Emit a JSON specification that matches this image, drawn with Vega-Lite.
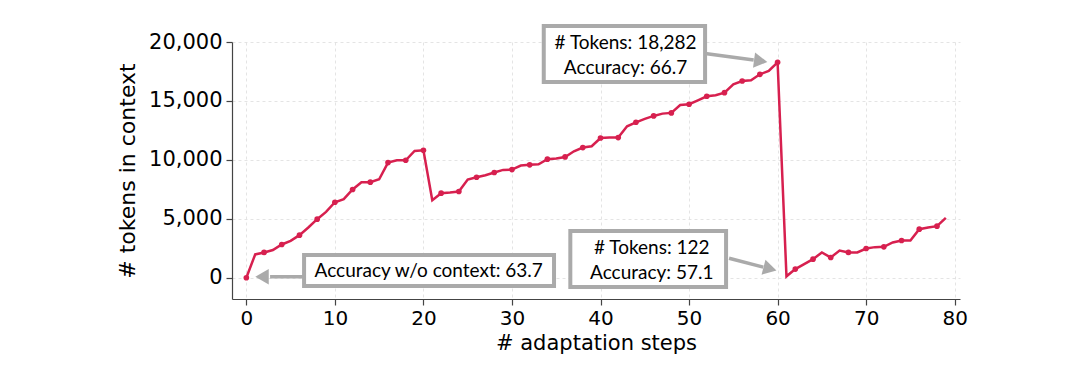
{
  "$schema": "https://vega.github.io/schema/vega-lite/v6.json",
  "width": 728,
  "height": 257,
  "autosize": "none",
  "padding": {"left": 232, "top": 42, "right": 120, "bottom": 76},
  "background": "white",
  "config": {
    "view": {"stroke": null},
    "axis": {
      "labelFont": "DejaVu Sans",
      "titleFont": "DejaVu Sans",
      "labelFontSize": 20,
      "titleFontSize": 21,
      "titleFontWeight": "normal",
      "labelColor": "#000000",
      "titleColor": "#000000",
      "domainColor": "#444444",
      "domainWidth": 1.2,
      "tickColor": "#444444",
      "tickWidth": 1.2,
      "tickSize": 6,
      "gridColor": "#dddddd",
      "gridDash": [3, 3],
      "gridWidth": 0.8
    }
  },
  "datasets": {
    "series": [
      {"step": 0, "tokens": 0}, {"step": 1, "tokens": 1980}, {"step": 2, "tokens": 2150}, {"step": 3, "tokens": 2350},
      {"step": 4, "tokens": 2825}, {"step": 5, "tokens": 3135}, {"step": 6, "tokens": 3615}, {"step": 7, "tokens": 4265},
      {"step": 8, "tokens": 4970}, {"step": 9, "tokens": 5590}, {"step": 10, "tokens": 6410}, {"step": 11, "tokens": 6670},
      {"step": 12, "tokens": 7490}, {"step": 13, "tokens": 8110}, {"step": 14, "tokens": 8110}, {"step": 15, "tokens": 8360},
      {"step": 16, "tokens": 9770}, {"step": 17, "tokens": 9970}, {"step": 18, "tokens": 9970}, {"step": 19, "tokens": 10760},
      {"step": 20, "tokens": 10820}, {"step": 21, "tokens": 6580}, {"step": 22, "tokens": 7175}, {"step": 23, "tokens": 7230},
      {"step": 24, "tokens": 7315}, {"step": 25, "tokens": 8330}, {"step": 26, "tokens": 8530}, {"step": 27, "tokens": 8700},
      {"step": 28, "tokens": 8930}, {"step": 29, "tokens": 9150}, {"step": 30, "tokens": 9180}, {"step": 31, "tokens": 9520},
      {"step": 32, "tokens": 9580}, {"step": 33, "tokens": 9630}, {"step": 34, "tokens": 10060}, {"step": 35, "tokens": 10110},
      {"step": 36, "tokens": 10250}, {"step": 37, "tokens": 10730}, {"step": 38, "tokens": 11045}, {"step": 39, "tokens": 11160},
      {"step": 40, "tokens": 11860}, {"step": 41, "tokens": 11890}, {"step": 42, "tokens": 11890}, {"step": 43, "tokens": 12850},
      {"step": 44, "tokens": 13190}, {"step": 45, "tokens": 13475}, {"step": 46, "tokens": 13730}, {"step": 47, "tokens": 13925},
      {"step": 48, "tokens": 13985}, {"step": 49, "tokens": 14660}, {"step": 50, "tokens": 14720}, {"step": 51, "tokens": 15055},
      {"step": 52, "tokens": 15395}, {"step": 53, "tokens": 15480}, {"step": 54, "tokens": 15705}, {"step": 55, "tokens": 16410},
      {"step": 56, "tokens": 16695}, {"step": 57, "tokens": 16750}, {"step": 58, "tokens": 17260}, {"step": 59, "tokens": 17540},
      {"step": 60, "tokens": 18282}, {"step": 61, "tokens": 122}, {"step": 62, "tokens": 735}, {"step": 63, "tokens": 1160},
      {"step": 64, "tokens": 1580}, {"step": 65, "tokens": 2150}, {"step": 66, "tokens": 1720}, {"step": 67, "tokens": 2315},
      {"step": 68, "tokens": 2150}, {"step": 69, "tokens": 2150}, {"step": 70, "tokens": 2485}, {"step": 71, "tokens": 2600},
      {"step": 72, "tokens": 2625}, {"step": 73, "tokens": 2995}, {"step": 74, "tokens": 3165}, {"step": 75, "tokens": 3165},
      {"step": 76, "tokens": 4125}, {"step": 77, "tokens": 4265}, {"step": 78, "tokens": 4380}, {"step": 79, "tokens": 5085}
    ],
    "boxes": [
      {"box": "b1", "x1": 6.52, "x2": 34.75, "y1": 1934, "y2": -696},
      {"box": "b2", "x1": 33.59, "x2": 51.81, "y1": 21358, "y2": 16608},
      {"box": "b3", "x1": 36.59, "x2": 54.18, "y1": 3970, "y2": -780}
    ],
    "labels": [
      {"x": 20.6, "y": 577, "label": "Accuracy w/o context: 63.7"},
      {"x": 42.83, "y": 19891, "label": "# Tokens: 18,282"},
      {"x": 42.83, "y": 17770, "label": "Accuracy: 66.7"},
      {"x": 45.79, "y": 2502, "label": "# Tokens: 122"},
      {"x": 45.79, "y": 382, "label": "Accuracy: 57.1"}
    ],
    "shafts": [
      {"arrow": "a1", "x1": 6.52, "y1": 93, "x2": 2.68, "y2": 93},
      {"arrow": "a2", "x1": 51.81, "y1": 19026, "x2": 57.3, "y2": 18466},
      {"arrow": "a3", "x1": 54.52, "y1": 1654, "x2": 58.38, "y2": 908}
    ],
    "heads": [
      {"arrow": "a1", "x": 1.77, "y": 93},
      {"arrow": "a2", "x": 58.09, "y": 18381},
      {"arrow": "a3", "x": 59.14, "y": 755}
    ]
  },
  "layer": [
    {
      "data": {"name": "series"},
      "mark": {"type": "line", "color": "#d7204f", "strokeWidth": 2.5, "clip": false},
      "encoding": {
        "x": {"field": "step", "type": "quantitative", "title": "# adaptation steps",
              "scale": {"domain": [-1.62, 80.6], "nice": false, "zero": false},
              "axis": {"values": [0, 10, 20, 30, 40, 50, 60, 70, 80], "format": "d", "labelPadding": 3, "titlePadding": 4, "grid": true}},
        "y": {"field": "tokens", "type": "quantitative", "title": "# tokens in context",
              "scale": {"domain": [-1800, 20000], "nice": false, "zero": false},
              "axis": {"values": [0, 5000, 10000, 15000, 20000], "format": ",d", "labelPadding": 4, "titlePadding": 9, "titleFontSize": 22, "labelFontSize": 21, "grid": true}}
      }
    },
    {
      "data": {"name": "series"},
      "transform": [{"filter": "datum.step % 2 == 0"}],
      "mark": {"type": "point", "filled": true, "color": "#d7204f", "size": 32, "opacity": 1},
      "encoding": {
        "x": {"field": "step", "type": "quantitative", "title": "# adaptation steps"},
        "y": {"field": "tokens", "type": "quantitative", "title": "# tokens in context"}
      }
    },
    {
      "data": {"name": "boxes"},
      "mark": {"type": "rect", "fill": "white", "stroke": "#aaaaaa", "strokeWidth": 4},
      "encoding": {
        "x": {"field": "x1", "type": "quantitative", "title": "# adaptation steps"},
        "x2": {"field": "x2"},
        "y": {"field": "y1", "type": "quantitative", "title": "# tokens in context"},
        "y2": {"field": "y2"}
      }
    },
    {
      "data": {"name": "labels"},
      "mark": {"type": "text", "font": "Lato", "fontSize": 19, "color": "#000000", "align": "center", "baseline": "middle"},
      "encoding": {
        "x": {"field": "x", "type": "quantitative", "title": "# adaptation steps"},
        "y": {"field": "y", "type": "quantitative", "title": "# tokens in context"},
        "text": {"field": "label"}
      }
    },
    {
      "data": {"name": "shafts"},
      "mark": {"type": "rule", "color": "#aaaaaa", "strokeWidth": 3.5},
      "encoding": {
        "x": {"field": "x1", "type": "quantitative", "title": "# adaptation steps"},
        "x2": {"field": "x2"},
        "y": {"field": "y1", "type": "quantitative", "title": "# tokens in context"},
        "y2": {"field": "y2"}
      }
    },
    {
      "data": {"name": "heads"},
      "transform": [{"filter": "datum.arrow == 'a1'"}],
      "mark": {"type": "point", "shape": "triangle-left", "filled": true, "color": "#aaaaaa", "size": 240, "opacity": 1},
      "encoding": {
        "x": {"field": "x", "type": "quantitative", "title": "# adaptation steps"},
        "y": {"field": "y", "type": "quantitative", "title": "# tokens in context"}
      }
    },
    {
      "data": {"name": "heads"},
      "transform": [{"filter": "datum.arrow == 'a2'"}],
      "mark": {"type": "point", "shape": "triangle-right", "angle": 7.7, "filled": true, "color": "#aaaaaa", "size": 240, "opacity": 1},
      "encoding": {
        "x": {"field": "x", "type": "quantitative", "title": "# adaptation steps"},
        "y": {"field": "y", "type": "quantitative", "title": "# tokens in context"}
      }
    },
    {
      "data": {"name": "heads"},
      "transform": [{"filter": "datum.arrow == 'a3'"}],
      "mark": {"type": "point", "shape": "triangle-right", "angle": 14.7, "filled": true, "color": "#aaaaaa", "size": 240, "opacity": 1},
      "encoding": {
        "x": {"field": "x", "type": "quantitative", "title": "# adaptation steps"},
        "y": {"field": "y", "type": "quantitative", "title": "# tokens in context"}
      }
    }
  ]
}
